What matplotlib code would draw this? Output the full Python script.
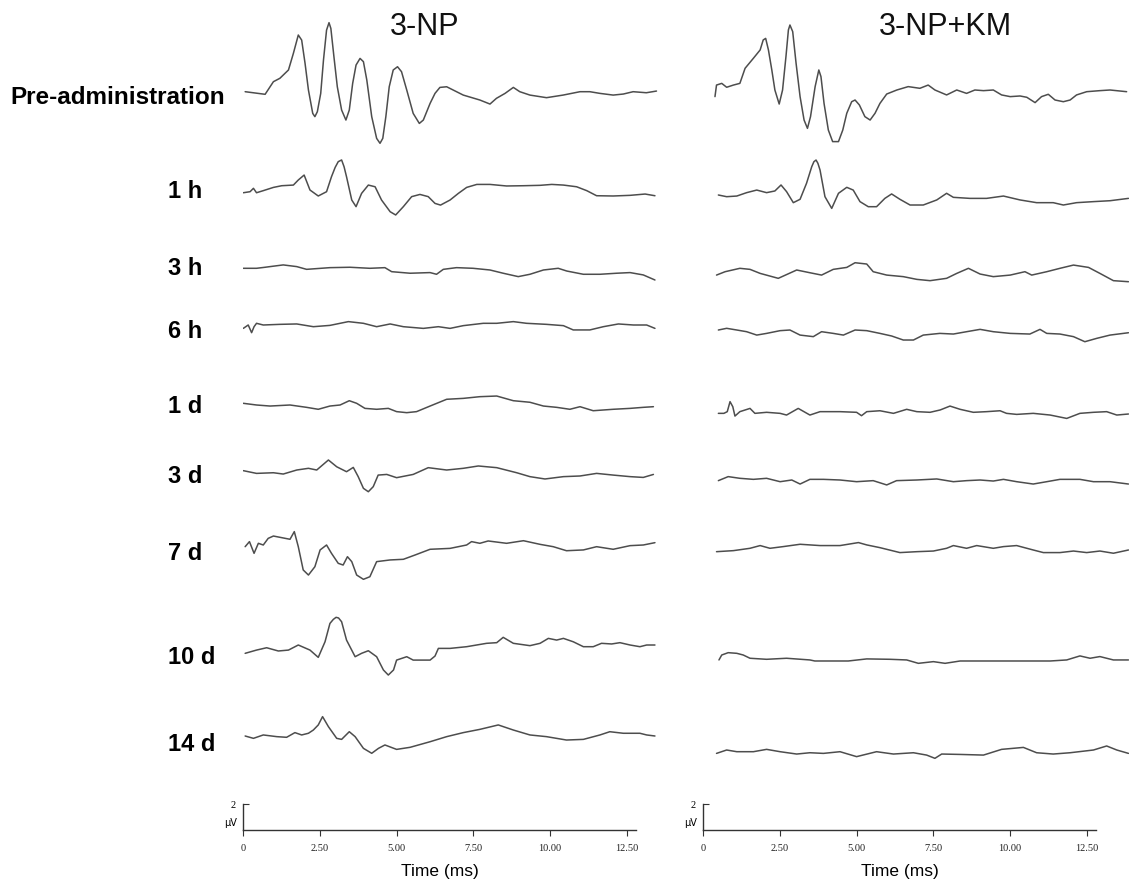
import matplotlib.pyplot as plt

# ABR waveforms: time in ms, amplitude in uV (relative to each trace's baseline)
ROW_LABELS = ["Pre-administration", "1 h", "3 h", "6 h", "1 d", "3 d", "7 d", "10 d", "14 d"]

# ---- 3-NP group ----
np_pre_t = [0.07, 0.72, 0.99, 1.20, 1.48, 1.64, 1.80, 1.91, 2.02, 2.13, 2.27, 2.34, 2.42, 2.53, 2.62, 2.72, 2.80,
            2.86, 2.96, 3.07, 3.21, 3.35, 3.46, 3.57, 3.68, 3.81, 3.92, 4.03, 4.19, 4.35, 4.46, 4.55, 4.65, 4.76,
            4.89, 5.03, 5.16, 5.33, 5.54, 5.74, 5.87, 6.09, 6.25, 6.41, 6.63, 7.17, 7.71, 8.04, 8.25, 8.53,
            8.80, 9.01, 9.34, 9.88, 10.42, 10.97, 11.29, 11.62, 12.05, 12.38, 12.70, 13.13, 13.46]
np_pre_v = [0.0, -0.2, 0.77, 1.03, 1.67, 2.95, 4.36, 3.97, 2.18, 0.13, -1.67, -1.92, -1.54, -0.13, 2.44, 4.74, 5.31,
            4.87, 2.69, 0.38, -1.41, -2.18, -1.41, 0.64, 2.05, 2.56, 2.31, 0.90, -1.92, -3.59, -3.97, -3.59, -1.92,
            0.38, 1.67, 1.92, 1.54, 0.13, -1.67, -2.44, -2.18, -0.90, -0.13, 0.33, 0.38, -0.26, -0.64, -0.95, -0.51,
            -0.13, 0.33, 0.0, -0.26, -0.46, -0.26, 0.0, 0.0, -0.13, -0.26, -0.18, 0.0, -0.08, 0.05]

np_1h_t = [0.01, 0.23, 0.34, 0.44, 0.66, 0.99, 1.26, 1.64, 1.80, 1.99, 2.18, 2.45, 2.72, 2.88, 3.00, 3.10, 3.21,
           3.29, 3.37, 3.54, 3.68, 3.86, 4.08, 4.30, 4.51, 4.79, 4.97, 5.22, 5.49, 5.76, 6.03, 6.25, 6.43, 6.74,
           7.01, 7.28, 7.61, 8.04, 8.58, 9.13, 9.67, 10.05, 10.43, 10.86, 11.19, 11.51, 12.05, 12.60, 13.09, 13.41]
np_1h_v = [-0.08, 0.0, 0.26, -0.08, 0.08, 0.33, 0.46, 0.51, 0.90, 1.28, 0.13, -0.33, 0.0, 1.15, 1.87, 2.31, 2.44,
           1.92, 1.15, -0.64, -1.15, -0.13, 0.51, 0.38, -0.64, -1.54, -1.79, -1.15, -0.38, -0.21, -0.38, -0.90,
           -1.03, -0.64, -0.13, 0.33, 0.56, 0.56, 0.44, 0.46, 0.49, 0.56, 0.51, 0.38, 0.08, -0.31, -0.33, -0.28,
           -0.18, -0.31]

np_3h_t = [0.01, 0.44, 0.72, 0.88, 1.31, 1.75, 2.07, 2.83, 3.48, 4.13, 4.62, 4.84, 5.44, 6.09, 6.30, 6.52, 6.95,
           7.49, 8.04, 8.47, 8.96, 9.34, 9.78, 10.26, 10.54, 11.08, 11.62, 12.16, 12.60, 13.03, 13.41]
np_3h_v = [0.0, 0.0, 0.08, 0.13, 0.26, 0.13, -0.08, 0.05, 0.08, 0.0, 0.05, -0.26, -0.38, -0.33, -0.46, -0.08, 0.05,
           0.0, -0.13, -0.38, -0.64, -0.46, -0.13, 0.0, -0.21, -0.46, -0.46, -0.38, -0.33, -0.51, -0.90]

np_6h_t = [0.01, 0.17, 0.28, 0.36, 0.44, 0.66, 1.20, 1.75, 2.29, 2.83, 3.43, 3.92, 4.35, 4.79, 5.22, 5.87, 6.36,
           6.74, 7.17, 7.82, 8.26, 8.80, 9.23, 9.88, 10.43, 10.75, 11.29, 11.73, 12.22, 12.71, 13.14, 13.41]
np_6h_v = [-0.26, 0.0, -0.59, -0.13, 0.13, 0.0, 0.05, 0.08, -0.13, -0.03, 0.26, 0.13, -0.13, 0.08, -0.13, -0.26,
           -0.13, -0.26, -0.05, 0.13, 0.13, 0.26, 0.13, 0.05, -0.05, -0.38, -0.38, -0.13, 0.08, 0.0, 0.0, -0.26]

np_1d_t = [0.01, 0.44, 0.88, 1.53, 2.07, 2.45, 2.83, 3.16, 3.46, 3.70, 3.97, 4.35, 4.73, 5.00, 5.33, 5.65, 6.09,
           6.63, 7.17, 7.71, 8.26, 8.80, 9.34, 9.78, 10.21, 10.64, 10.97, 11.40, 12.05, 12.60, 13.03, 13.36]
np_1d_v = [0.13, 0.0, -0.08, 0.0, -0.18, -0.33, -0.08, 0.0, 0.33, 0.13, -0.26, -0.33, -0.26, -0.51, -0.59, -0.51,
           -0.08, 0.44, 0.51, 0.64, 0.69, 0.33, 0.21, -0.08, -0.18, -0.33, -0.13, -0.44, -0.33, -0.26, -0.18, -0.13]

np_3d_t = [0.01, 0.44, 0.99, 1.31, 1.75, 2.13, 2.40, 2.78, 3.05, 3.37, 3.59, 3.75, 3.92, 4.08, 4.24, 4.40, 4.68,
           5.00, 5.54, 6.03, 6.63, 7.17, 7.66, 8.26, 8.91, 9.34, 9.83, 10.43, 10.97, 11.51, 12.05, 12.60, 13.03, 13.36]
np_3d_v = [0.08, -0.13, -0.08, -0.18, 0.13, 0.26, 0.13, 0.90, 0.38, 0.0, 0.33, -0.38, -1.28, -1.54, -1.15, -0.26,
           -0.21, -0.46, -0.21, 0.31, 0.13, 0.26, 0.44, 0.31, -0.08, -0.38, -0.56, -0.38, -0.33, -0.13, -0.26, -0.38,
           -0.44, -0.21]

np_7d_t = [0.07, 0.21, 0.36, 0.50, 0.66, 0.82, 0.99, 1.53, 1.67, 1.80, 1.96, 2.13, 2.34, 2.51, 2.72, 2.88, 3.10,
           3.26, 3.40, 3.54, 3.70, 3.92, 4.13, 4.35, 4.79, 5.22, 5.60, 6.09, 6.74, 7.28, 7.44, 7.71, 7.98, 8.58,
           9.13, 9.67, 10.10, 10.53, 11.08, 11.51, 12.05, 12.60, 13.03, 13.41]
np_7d_v = [-0.13, 0.26, -0.64, 0.13, 0.0, 0.51, 0.69, 0.44, 1.03, -0.13, -1.92, -2.31, -1.67, -0.38, 0.0, -0.64,
           -1.41, -1.54, -0.90, -1.28, -2.31, -2.64, -2.44, -1.28, -1.15, -1.10, -0.77, -0.33, -0.26, 0.0, 0.26,
           0.13, 0.31, 0.13, 0.33, 0.05, -0.13, -0.44, -0.38, -0.13, -0.33, -0.05, 0.0, 0.18]

np_10d_t = [0.07, 0.44, 0.77, 1.15, 1.48, 1.80, 2.18, 2.45, 2.67, 2.83, 2.94, 3.03, 3.11, 3.21, 3.37, 3.65, 3.86,
            4.08, 4.35, 4.57, 4.73, 4.90, 5.00, 5.33, 5.54, 6.09, 6.25, 6.36, 6.74, 7.28, 7.93, 8.26, 8.47, 8.80,
            9.34, 9.67, 9.94, 10.21, 10.43, 10.75, 11.08, 11.40, 11.67, 12.00, 12.27, 12.60, 12.92, 13.14, 13.41]
np_10d_v = [-0.51, -0.26, -0.08, -0.33, -0.26, 0.13, -0.26, -0.82, 0.38, 1.79, 2.10, 2.26, 2.21, 1.92, 0.51, -0.77,
            -0.51, -0.31, -0.77, -1.79, -2.18, -1.79, -1.03, -0.77, -1.03, -1.03, -0.72, -0.13, -0.13, 0.0, 0.26,
            0.31, 0.72, 0.26, 0.08, 0.26, 0.64, 0.51, 0.64, 0.38, 0.0, 0.0, 0.26, 0.21, 0.31, 0.13, 0.0, 0.13, 0.13]

np_14d_t = [0.07, 0.34, 0.66, 1.10, 1.42, 1.69, 1.91, 2.13, 2.29, 2.45, 2.59, 2.78, 3.05, 3.21, 3.46, 3.65, 3.92,
            4.19, 4.41, 4.62, 5.00, 5.44, 6.09, 6.63, 7.17, 7.71, 8.31, 8.80, 9.34, 9.88, 10.53, 11.08, 11.62,
            11.94, 12.38, 12.92, 13.14, 13.41]
np_14d_v = [0.0, -0.18, 0.08, -0.05, -0.10, 0.26, 0.08, 0.21, 0.46, 0.85, 1.49, 0.72, -0.18, -0.26, 0.33, -0.05,
            -0.95, -1.33, -0.95, -0.69, -1.03, -0.87, -0.44, -0.05, 0.26, 0.51, 0.85, 0.46, 0.08, -0.05, -0.31,
            -0.26, 0.08, 0.33, 0.21, 0.21, 0.08, 0.0]

# ---- 3-NP+KM group ----
km_pre_t = [0.39, 0.44, 0.61, 0.77, 0.99, 1.20, 1.37, 1.64, 1.86, 1.96, 2.04, 2.13, 2.24, 2.34, 2.48, 2.59, 2.70,
            2.78, 2.83, 2.92, 3.03, 3.16, 3.29, 3.40, 3.50, 3.65, 3.77, 3.84, 3.94, 4.08, 4.22, 4.41, 4.55, 4.68,
            4.84, 4.95, 5.09, 5.27, 5.44, 5.60, 5.76, 5.98, 6.31, 6.68, 7.06, 7.33, 7.55, 7.93, 8.26, 8.58, 8.85,
            9.13, 9.45, 9.72, 10.0, 10.32, 10.54, 10.81, 11.02, 11.24, 11.46, 11.73, 11.95, 12.16, 12.49, 12.92,
            13.25, 13.79]
km_pre_v = [-0.51, 0.38, 0.51, 0.21, 0.38, 0.51, 1.67, 2.44, 3.08, 3.85, 3.97, 3.08, 1.54, 0.0, -1.08, 0.0, 2.56,
            4.62, 5.0, 4.49, 2.05, -0.51, -2.31, -2.95, -2.05, 0.26, 1.54, 1.03, -1.03, -3.08, -3.97, -3.97, -3.08,
            -1.79, -0.90, -0.77, -1.15, -2.05, -2.31, -1.79, -1.03, -0.31, 0.0, 0.26, 0.13, 0.38, 0.0, -0.38, 0.0,
            -0.26, 0.0, -0.05, 0.0, -0.38, -0.51, -0.46, -0.56, -0.97, -0.51, -0.33, -0.77, -0.90, -0.77, -0.38,
            -0.13, -0.05, 0.0, -0.13]

km_1h_t = [0.50, 0.77, 1.10, 1.42, 1.75, 2.07, 2.34, 2.54, 2.72, 2.94, 3.16, 3.37, 3.54, 3.61, 3.68, 3.74, 3.81,
           3.97, 4.19, 4.41, 4.68, 4.89, 5.11, 5.38, 5.65, 5.92, 6.14, 6.41, 6.74, 7.17, 7.61, 7.93, 8.15, 8.69,
           9.23, 9.78, 10.32, 10.86, 11.40, 11.73, 12.16, 12.71, 13.25, 13.85]
km_1h_v = [0.0, -0.13, -0.08, 0.18, 0.38, 0.18, 0.31, 0.77, 0.26, -0.59, -0.33, 0.90, 2.18, 2.56, 2.69, 2.44, 1.92,
           -0.13, -1.03, 0.13, 0.59, 0.38, -0.51, -0.90, -0.90, -0.26, 0.08, -0.33, -0.77, -0.77, -0.38, 0.13,
           -0.18, -0.26, -0.26, -0.08, -0.38, -0.59, -0.59, -0.77, -0.59, -0.51, -0.44, -0.26]

km_3h_t = [0.44, 0.72, 1.20, 1.53, 1.86, 2.45, 3.05, 3.48, 3.86, 4.24, 4.68, 4.95, 5.33, 5.54, 5.98, 6.52, 6.96,
           7.39, 7.93, 8.26, 8.64, 9.02, 9.45, 10.0, 10.48, 10.70, 11.19, 11.62, 12.06, 12.55, 12.92, 13.36, 13.85]
km_3h_v = [-0.26, 0.0, 0.26, 0.18, -0.13, -0.51, 0.13, -0.08, -0.26, 0.18, 0.33, 0.69, 0.59, 0.0, -0.26, -0.38,
           -0.59, -0.69, -0.51, -0.13, 0.26, -0.18, -0.38, -0.26, 0.0, -0.26, 0.0, 0.26, 0.51, 0.33, -0.13, -0.69,
           -0.77]

km_6h_t = [0.50, 0.77, 1.10, 1.42, 1.75, 2.07, 2.51, 2.83, 3.16, 3.59, 3.86, 4.24, 4.57, 4.95, 5.33, 5.76, 6.14,
           6.52, 6.85, 7.17, 7.71, 8.15, 8.58, 9.02, 9.45, 10.0, 10.64, 10.97, 11.19, 11.62, 12.06, 12.43, 12.82,
           13.25, 13.85]
km_6h_v = [0.13, 0.26, 0.13, 0.0, -0.26, -0.13, 0.08, 0.13, -0.26, -0.38, 0.0, -0.13, -0.26, 0.13, 0.08, -0.13,
           -0.33, -0.64, -0.64, -0.26, -0.13, -0.18, 0.0, 0.18, 0.0, -0.13, -0.18, 0.18, -0.13, -0.18, -0.38,
           -0.77, -0.51, -0.26, -0.08]

km_1d_t = [0.50, 0.68, 0.79, 0.88, 0.97, 1.04, 1.20, 1.53, 1.69, 2.07, 2.51, 2.72, 3.10, 3.48, 3.81, 4.46, 5.00,
           5.16, 5.33, 5.76, 6.20, 6.63, 6.96, 7.39, 7.72, 8.04, 8.37, 8.80, 9.23, 9.67, 9.88, 10.21, 10.75, 11.30,
           11.84, 12.27, 12.71, 13.14, 13.47, 13.85]
km_1d_v = [-0.05, -0.05, 0.08, 0.85, 0.46, -0.26, 0.08, 0.33, -0.05, 0.03, -0.05, -0.18, 0.33, -0.18, 0.08, 0.08,
           0.03, -0.23, 0.08, 0.15, -0.05, 0.26, 0.08, 0.03, 0.21, 0.51, 0.26, 0.03, 0.08, 0.15, -0.05, -0.13,
           -0.05, -0.18, -0.44, -0.05, 0.03, 0.08, -0.18, -0.10]

km_3d_t = [0.50, 0.82, 1.20, 1.64, 2.07, 2.51, 2.89, 3.16, 3.48, 3.92, 4.46, 5.00, 5.54, 5.98, 6.30, 6.96, 7.61,
           8.15, 8.58, 9.02, 9.45, 9.78, 10.21, 10.75, 11.19, 11.62, 12.27, 12.71, 13.25, 13.85]
km_3d_v = [-0.05, 0.26, 0.13, 0.05, 0.13, -0.13, 0.0, -0.31, 0.05, 0.05, 0.0, -0.13, -0.05, -0.38, -0.05, 0.0,
           0.08, -0.13, -0.05, 0.0, -0.08, 0.05, -0.13, -0.31, -0.13, 0.05, 0.05, -0.13, -0.13, -0.31]

km_7d_t = [0.44, 0.99, 1.53, 1.86, 2.18, 2.61, 3.16, 3.81, 4.46, 5.06, 5.33, 5.76, 6.41, 6.96, 7.50, 7.93, 8.15,
           8.58, 8.91, 9.45, 9.78, 10.21, 10.75, 11.08, 11.62, 12.06, 12.49, 12.92, 13.36, 13.85]
km_7d_v = [-0.26, -0.18, 0.0, 0.21, 0.0, 0.13, 0.31, 0.21, 0.21, 0.44, 0.26, 0.05, -0.33, -0.26, -0.21, 0.0, 0.21,
           0.0, 0.21, 0.0, 0.13, 0.21, -0.13, -0.33, -0.33, -0.21, -0.33, -0.21, -0.38, -0.13]

km_10d_t = [0.52, 0.61, 0.82, 1.10, 1.31, 1.53, 2.07, 2.72, 3.48, 3.64, 4.24, 4.73, 5.33, 6.09, 6.63, 7.01, 7.50,
            7.88, 8.37, 9.13, 10.21, 11.30, 11.84, 12.27, 12.60, 12.92, 13.36, 13.85]
km_10d_v = [-0.05, 0.33, 0.51, 0.46, 0.33, 0.08, 0.0, 0.08, -0.05, -0.13, -0.13, -0.13, 0.03, 0.0, -0.05, -0.31,
            -0.18, -0.31, -0.13, -0.13, -0.13, -0.13, -0.05, 0.26, 0.08, 0.21, -0.05, -0.05]

km_14d_t = [0.44, 0.77, 1.10, 1.64, 2.07, 2.51, 3.05, 3.48, 3.92, 4.46, 5.00, 5.65, 6.20, 6.85, 7.28, 7.55, 7.77,
            8.37, 9.13, 9.72, 10.43, 10.86, 11.40, 11.95, 12.71, 13.14, 13.47, 13.85]
km_14d_v = [-0.13, 0.13, 0.0, 0.0, 0.18, 0.0, -0.18, -0.08, -0.13, 0.0, -0.38, 0.0, -0.18, -0.08, -0.26, -0.51,
            -0.18, -0.21, -0.26, 0.18, 0.33, -0.08, -0.18, -0.08, 0.13, 0.44, 0.13, -0.13]

np_traces = [(np_pre_t, np_pre_v), (np_1h_t, np_1h_v), (np_3h_t, np_3h_v), (np_6h_t, np_6h_v),
             (np_1d_t, np_1d_v), (np_3d_t, np_3d_v), (np_7d_t, np_7d_v), (np_10d_t, np_10d_v),
             (np_14d_t, np_14d_v)]
km_traces = [(km_pre_t, km_pre_v), (km_1h_t, km_1h_v), (km_3h_t, km_3h_v), (km_6h_t, km_6h_v),
             (km_1d_t, km_1d_v), (km_3d_t, km_3d_v), (km_7d_t, km_7d_v), (km_10d_t, km_10d_v),
             (km_14d_t, km_14d_v)]

# layout (pixels of a 1129x888 canvas)
W, H = 1129, 888
PX_PER_MS = 30.72
PX_PER_UV = 13.0
np_rows_px = [91.7, 191.7, 268.3, 325, 405, 471.7, 545, 646.7, 736]
km_rows_px = [90, 195, 271.7, 331.7, 412.7, 480, 548.3, 659.3, 751.7]
label_rows_px = [97, 192, 268, 331, 406, 476, 553, 657, 744]

TRACE_COLOR = "#4d4d4d"
SCALE_TICKS = [0, 2.5, 5.0, 7.5, 10.0, 12.5]
SCALE_LABELS = ["0", "2.50", "5.00", "7.50", "10.00", "12.50"]

fig = plt.figure(figsize=(W / 100, H / 100), dpi=100)
fig.patch.set_facecolor("white")


def panel(x0_px, traces, rows_px, title, title_x):
    xmax = 14.0
    ax = fig.add_axes([x0_px / W, 0, xmax * PX_PER_MS / W, 1])
    ax.set_xlim(0, xmax)
    ax.set_ylim(0, H / PX_PER_UV)
    ax.axis("off")
    for (t, v), row in zip(traces, rows_px):
        off = (H - row) / PX_PER_UV
        ax.plot(t, [y + off for y in v], color=TRACE_COLOR, lw=1.1,
                solid_joinstyle="round", solid_capstyle="round")
    fig.text(title_x / W, 1 - 27 / H, title, ha="center", va="center", fontsize=22,
             family="Liberation Sans", color="#111111")

    # calibration: 2 uV / time axis
    sx = fig.add_axes([x0_px / W, (H - 830) / H, 12.8 * PX_PER_MS / W, 26 / H])
    sx.set_xlim(0, 12.8)
    sx.set_ylim(0, 2)
    for s in ["top", "right"]:
        sx.spines[s].set_visible(False)
    for s in ["left", "bottom"]:
        sx.spines[s].set_color("#333333")
        sx.spines[s].set_linewidth(1.0)
    sx.patch.set_alpha(0)
    sx.set_yticks([2])
    sx.set_yticklabels(["2"], fontsize=7.5, family="Liberation Serif")
    sx.tick_params(axis="y", direction="in", length=4, pad=5, color="#333333")
    sx.set_xticks(SCALE_TICKS)
    sx.set_xticklabels(SCALE_LABELS, fontsize=7.5, family="Liberation Serif", color="#222222")
    sx.tick_params(axis="x", direction="out", length=4, pad=6, color="#333333")
    sx.text(-0.2, 0.55, "\u00b5V", ha="right", va="center", fontsize=7, family="DejaVu Sans")
    sx.set_xlabel("Time (ms)", fontsize=12.5, family="Liberation Sans", labelpad=8)


panel(243, np_traces, np_rows_px, "3-NP", 425)
panel(703, km_traces, km_rows_px, "3-NP+KM", 945)

for i, (lab, row) in enumerate(zip(ROW_LABELS, label_rows_px)):
    x = 10 if i == 0 else 168
    fig.text(x / W, 1 - row / H, lab, ha="left", va="center", fontsize=17.5 if i == 0 else 17,
             fontweight="bold", family="Liberation Sans", color="black")

fig.savefig("out.png", dpi=100, facecolor="white")
